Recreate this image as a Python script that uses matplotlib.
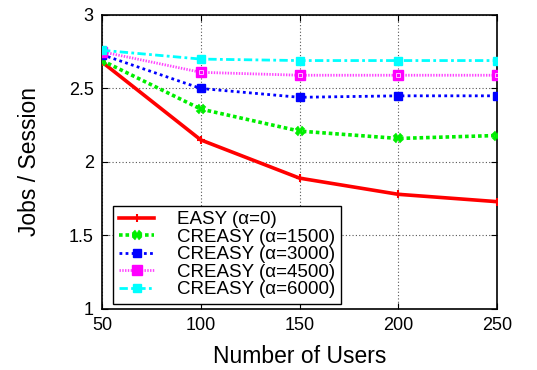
import matplotlib
matplotlib.use("Agg")
import matplotlib.pyplot as plt

users = [50, 100, 150, 200, 250]
easy_0 = [2.68, 2.15, 1.89, 1.78, 1.73]
creasy_1500 = [2.69, 2.36, 2.21, 2.16, 2.18]
creasy_3000 = [2.73, 2.50, 2.44, 2.45, 2.45]
creasy_4500 = [2.75, 2.61, 2.59, 2.59, 2.59]
creasy_6000 = [2.76, 2.70, 2.69, 2.69, 2.69]
labels = ["EASY (\u03b1=0)", "CREASY (\u03b1=1500)", "CREASY (\u03b1=3000)",
          "CREASY (\u03b1=4500)", "CREASY (\u03b1=6000)"]

plt.rcParams['font.family'] = ['Liberation Sans', 'DejaVu Sans']

fig = plt.figure(figsize=(5.37, 3.70), dpi=100)
ax = fig.add_axes([0.19, 0.165, 0.7355, 0.7945])

ax.plot(users, easy_0, color='#ff0000', lw=2.6, ls='-', marker='+',
        ms=6, mew=1.5, label=labels[0], zorder=3)
ax.plot(users, creasy_1500, color='#00ee00', lw=2.6, ls=(0, (1, 0.8)), marker='X',
        ms=6.5, mew=0.3, label=labels[1], zorder=3)
ax.plot(users, creasy_3000, color='#0000ff', lw=2.0, ls=(0, (1, 1.2)), marker='s',
        ms=5.5, label=labels[2], zorder=3)
ax.plot(users, creasy_4500, color='#ff44ff', lw=2.0, ls=(0, (0.5, 0.5)), marker='s',
        ms=6.5, mfc='#ff00ff', mec='#ff00ff', label=labels[3], zorder=3)
ax.plot(users, creasy_4500, ls='none', marker='s', ms=2.2, mfc='none',
        mec='#ffbbff', mew=0.7, zorder=3)
ax.plot(users, creasy_6000, color='#00ffff', lw=2.0, ls=(0, (3, 1.2, 1, 1.2)), marker='s',
        ms=6, label=labels[4], zorder=3)

ax.set_xlim(50, 250)
ax.set_ylim(1, 3)
ax.set_xticks(users)
ax.set_yticks([1, 1.5, 2, 2.5, 3])
ax.set_yticklabels(['1', '1.5', '2', '2.5', '3'])
ax.tick_params(direction='in', top=True, right=True, labelsize=13, length=4, pad=6)
ax.grid(True, color='#555555', ls=(0, (1, 2)), lw=0.8)
for s in ax.spines.values():
    s.set_linewidth(1.2)

ax.set_xlabel("Number of Users", fontsize=16.5, labelpad=8)
ax.set_ylabel("Jobs / Session", fontsize=16.5, labelpad=20)

leg = ax.legend(loc='lower left', bbox_to_anchor=(0.028, 0.017), fontsize=13.5,
                fancybox=False, framealpha=1, edgecolor='black',
                borderaxespad=0, labelspacing=0.02, handlelength=1.9,
                handletextpad=1.2, borderpad=0.3)
leg.get_frame().set_linewidth(1.0)

fig.savefig("out.png", dpi=100)
